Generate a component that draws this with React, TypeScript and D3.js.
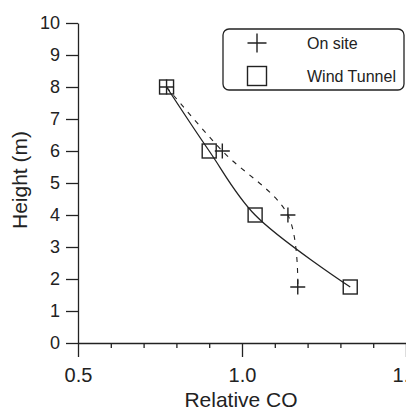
import React, { useEffect, useRef } from 'react';
import * as d3 from 'd3';

// heights (m) of the sampling points
const heights = [8, 6, 4, 1.75];
// relative CO, measured on site
const onSite = [0.77, 0.94, 1.14, 1.17];
// relative CO, wind tunnel
const windTunnel = [0.77, 0.9, 1.04, 1.33];

const xMajorTicks = [0.5, 1.0, 1.5];
const xMinorTicks = [0.6, 0.7, 0.8, 0.9, 1.1, 1.2, 1.3, 1.4];
const yTicks = [0, 1, 2, 3, 4, 5, 6, 7, 8, 9, 10];
const legendLabels = ['On site', 'Wind Tunnel'];

const FONT = '"Liberation Sans", Arial, sans-serif';
const INK = '#222';

const App = () => {
  const chartRef = useRef<HTMLDivElement>(null);

  useEffect(() => {
    const W = 406;
    const H = 412;

    const svg = d3.select(chartRef.current)
      .append('svg')
      .attr('width', W)
      .attr('height', H)
      .style('position', 'absolute')
      .style('left', 0)
      .style('top', 0)
      .style('background', '#fff');

    const x = d3.scaleLinear().domain([0.5, 1.5]).range([78, 406]);
    const y = d3.scaleLinear().domain([0, 10]).range([343, 23]);

    const styleAxis = (g: any, size: number) => {
      g.attr('font-family', FONT).attr('font-size', size);
      g.selectAll('path, line').attr('stroke', INK).attr('stroke-width', 1.3);
      g.selectAll('text').attr('fill', INK);
    };

    // y axis
    svg.append('g')
      .attr('transform', `translate(${x(0.5)},0)`)
      .call(d3.axisLeft(y).tickValues(yTicks).tickSize(12).tickPadding(6).tickSizeOuter(0).tickFormat(d3.format('d')))
      .call((g: any) => styleAxis(g, 18));

    // x axis, minor ticks
    svg.append('g')
      .attr('transform', `translate(0,${y(0)})`)
      .call(d3.axisBottom(x).tickValues(xMinorTicks).tickSize(5).tickFormat(() => ''))
      .call((g: any) => { g.select('.domain').remove(); styleAxis(g, 10); });

    // x axis, major ticks
    svg.append('g')
      .attr('transform', `translate(0,${y(0)})`)
      .call(d3.axisBottom(x).tickValues(xMajorTicks).tickSize(14).tickPadding(11).tickSizeOuter(0).tickFormat(d3.format('.1f')))
      .call((g: any) => styleAxis(g, 20));

    // axis titles
    svg.append('text')
      .attr('x', 241)
      .attr('y', 407)
      .attr('text-anchor', 'middle')
      .attr('font-family', FONT)
      .attr('font-size', 21)
      .attr('fill', INK)
      .text('Relative CO');

    svg.append('text')
      .attr('transform', 'translate(27,180) rotate(-90)')
      .attr('text-anchor', 'middle')
      .attr('font-family', FONT)
      .attr('font-size', 21)
      .attr('fill', INK)
      .text('Height (m)');

    // lines
    const siteLine = d3.line<number>()
      .x(d => x(d))
      .y((d, i) => y(heights[i]))
      .curve(d3.curveCatmullRom);

    svg.append('path')
      .datum(onSite)
      .attr('fill', 'none')
      .attr('stroke', INK)
      .attr('stroke-width', 1.1)
      .attr('stroke-dasharray', '5,6')
      .attr('d', siteLine);

    svg.append('path')
      .datum(windTunnel)
      .attr('fill', 'none')
      .attr('stroke', INK)
      .attr('stroke-width', 1.3)
      .attr('d', siteLine);

    const drawPlus = (g: any, cx: number, cy: number, s: number) => {
      g.append('path')
        .attr('d', `M${cx - s / 2},${cy}H${cx + s / 2}M${cx},${cy - s / 2}V${cy + s / 2}`)
        .attr('stroke', INK)
        .attr('stroke-width', 1.4)
        .attr('fill', 'none');
    };
    const drawSquare = (g: any, cx: number, cy: number, s: number) => {
      g.append('rect')
        .attr('x', cx - s / 2)
        .attr('y', cy - s / 2)
        .attr('width', s)
        .attr('height', s)
        .attr('stroke', INK)
        .attr('stroke-width', 1.4)
        .attr('fill', 'none');
    };

    const marks = svg.append('g');
    windTunnel.forEach((v, i) => drawSquare(marks, x(v), y(heights[i]), 14));
    onSite.forEach((v, i) => drawPlus(marks, x(v), y(heights[i]), 15));

    // legend
    const legend = svg.append('g');
    legend.append('rect')
      .attr('x', 223)
      .attr('y', 29)
      .attr('width', 181)
      .attr('height', 61)
      .attr('rx', 6)
      .attr('fill', '#fff')
      .attr('stroke', INK)
      .attr('stroke-width', 1.3);
    drawPlus(legend, 257, 43, 19);
    drawSquare(legend, 257, 76, 19);
    legendLabels.forEach((t, i) => {
      legend.append('text')
        .attr('x', 307)
        .attr('y', 49 + i * 33)
        .attr('font-family', FONT)
        .attr('font-size', 16)
        .attr('fill', INK)
        .text(t);
    });

    return () => {
      d3.select(chartRef.current).selectAll('svg').remove();
    };
  }, []);

  return <div ref={chartRef} />;
};

export default App;
